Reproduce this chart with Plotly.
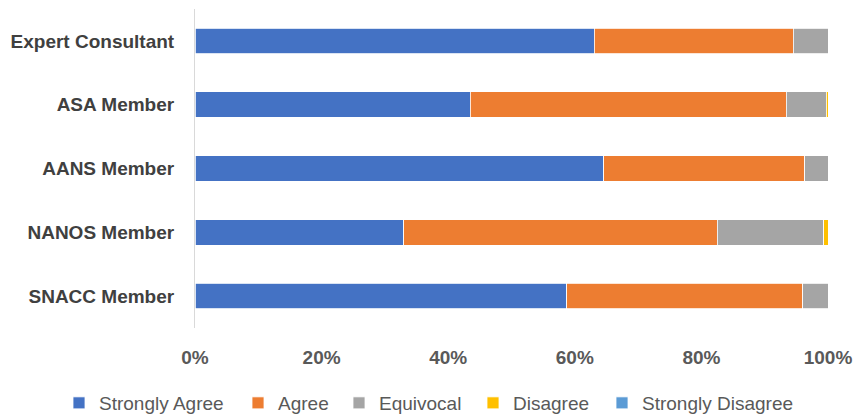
import plotly.graph_objects as go

categories = ["Expert Consultant", "ASA Member", "AANS Member", "NANOS Member", "SNACC Member"]
strongly_agree = [63.1, 43.5, 64.6, 33.0, 58.7]
agree = [31.4, 49.9, 31.7, 49.5, 37.3]
equivocal = [5.5, 6.3, 3.7, 16.8, 4.0]
disagree = [0.0, 0.3, 0.0, 0.7, 0.0]
strongly_disagree = [0.0, 0.0, 0.0, 0.0, 0.0]
tick_values = [0, 20, 40, 60, 80, 100]
tick_labels = ["0%", "20%", "40%", "60%", "80%", "100%"]

series = [
    ("Strongly Agree", strongly_agree, "#4472C4"),
    ("Agree", agree, "#ED7D31"),
    ("Equivocal", equivocal, "#A5A5A5"),
    ("Disagree", disagree, "#FFC000"),
    ("Strongly Disagree", strongly_disagree, "#5B9BD5"),
]
# left edge of each legend entry's text, in pixels
legend_text_x = [99, 278, 379, 513, 642]

FONT = "Liberation Sans, Arial, sans-serif"
W, H = 860, 418

fig = go.Figure()
legend_layout = {}
for i, ((name, vals, color), tx) in enumerate(zip(series, legend_text_x)):
    lg = "legend" if i == 0 else f"legend{i + 1}"
    fig.add_trace(go.Bar(
        y=categories, x=vals, name=name, orientation="h", legend=lg,
        showlegend=True,
        marker=dict(color=color, line=dict(color="#ffffff", width=0.8)),
    ))
    legend_layout[lg] = dict(
        orientation="h", xref="container", yref="container",
        x=(tx - 40) / W, xanchor="left", y=1 - 403 / H, yanchor="middle",
        font=dict(size=19, color="#595959", family=FONT),
        itemwidth=30, bgcolor="rgba(0,0,0,0)", borderwidth=0,
    )

fig.update_layout(
    showlegend=True,
    barmode="stack",
    barnorm="percent",
    width=W, height=H,
    margin=dict(l=195, r=32, t=9, b=90, autoexpand=False),
    paper_bgcolor="white", plot_bgcolor="white",
    bargap=0.6,
    font=dict(family=FONT, color="#595959", size=17),
    xaxis=dict(range=[0, 100], tickmode="array", tickvals=tick_values, ticktext=tick_labels,
               showgrid=False, zeroline=False, showline=False, automargin=False,
               tickfont=dict(size=19, color="#595959", family=FONT, weight="bold"),
               ticklabelstandoff=16, fixedrange=True),
    yaxis=dict(autorange="reversed", showline=True, linecolor="#D9D9D9", linewidth=1,
               showgrid=False, ticks="", ticklabelstandoff=16, automargin=False,
               tickfont=dict(size=19, color="#404040", family=FONT, weight="bold")),
    **legend_layout,
)

fig.write_html("out.html")
